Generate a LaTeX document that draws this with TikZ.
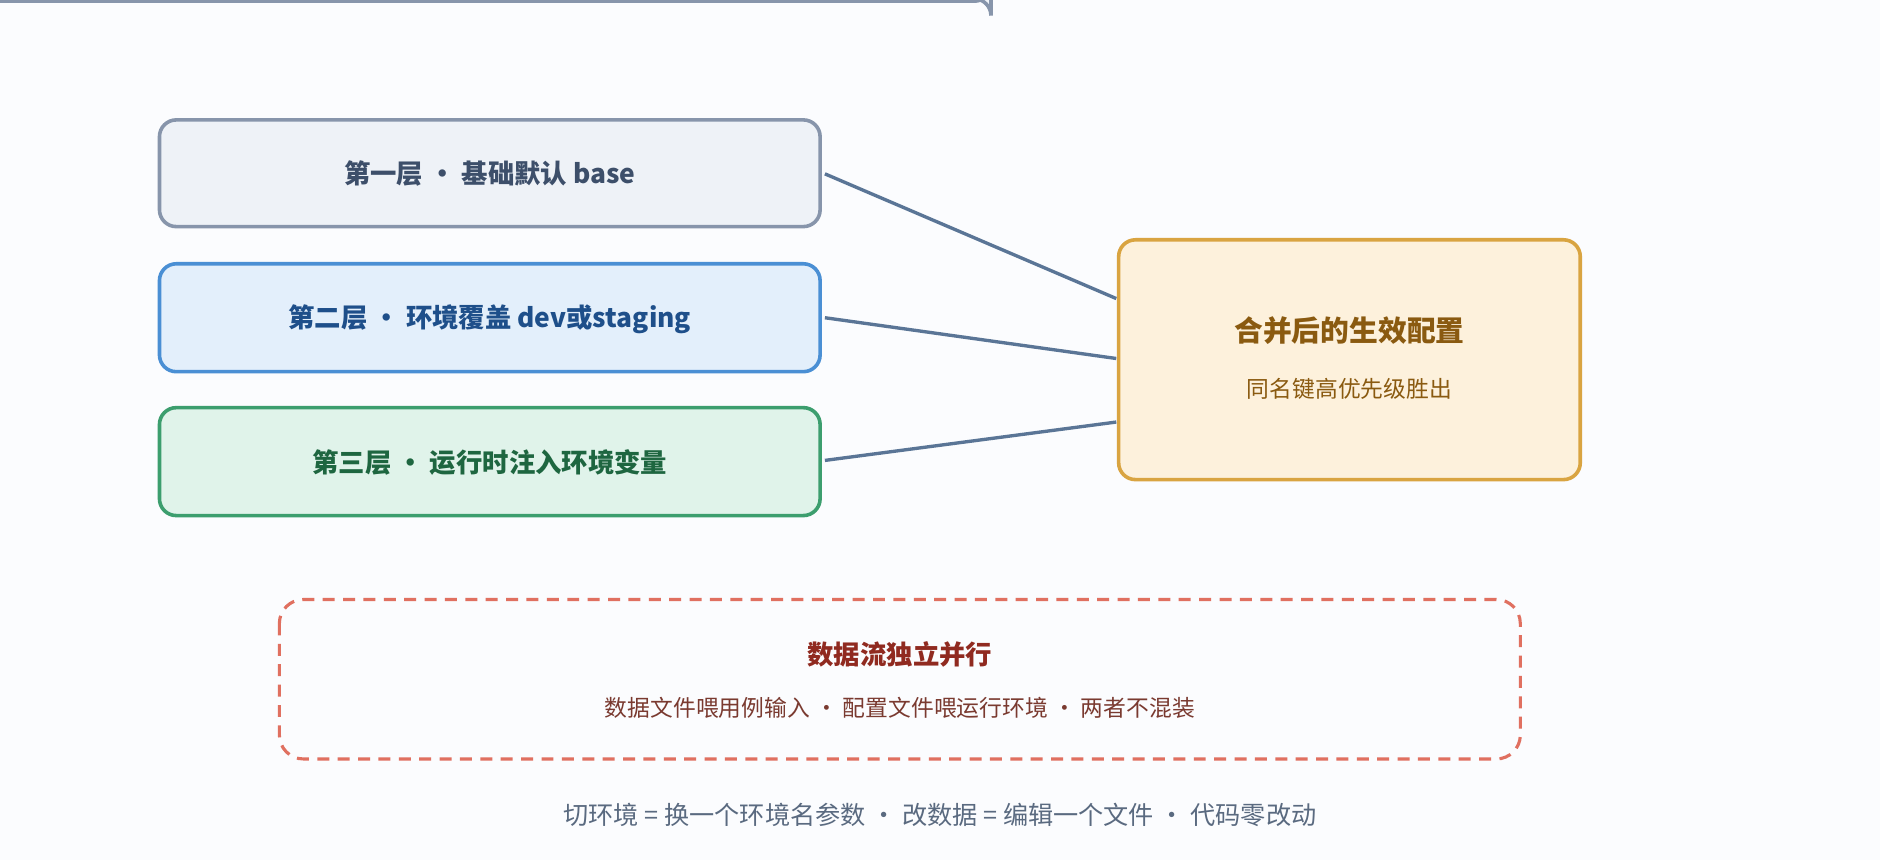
\documentclass[tikz,border=0pt]{standalone}
\usepackage{fontspec}
\setmainfont{Noto Sans CJK SC}
\begin{document}
\begin{tikzpicture}[x=0.5pt,y=-0.5pt,
  box/.style={draw,line width=1.5pt,rounded corners=7pt,inner sep=0pt},
  ttl/.style={font=\bfseries\fontsize{11}{13}\selectfont},
  conn/.style={draw=lnc,line width=1.4pt}]
\definecolor{bg}{HTML}{FBFCFE}
\definecolor{lnc}{HTML}{5A7596}
\definecolor{af}{HTML}{EEF2F7}\definecolor{ad}{HTML}{8795AB}\definecolor{at}{HTML}{3D4F6A}
\definecolor{bf}{HTML}{E3EFFB}\definecolor{bd}{HTML}{4A8FD4}\definecolor{bt}{HTML}{1E4F8A}
\definecolor{cf}{HTML}{E0F3EA}\definecolor{cd}{HTML}{3C9E6E}\definecolor{ct}{HTML}{1E6640}
\definecolor{rf}{HTML}{FDF1DC}\definecolor{rd}{HTML}{D9A441}\definecolor{rt}{HTML}{8A5A10}
\definecolor{dd}{HTML}{E07060}\definecolor{dt}{HTML}{902A20}\definecolor{ds}{HTML}{7A3A30}
\definecolor{ft}{HTML}{5A6A80}
\fill[bg] (0,0) rectangle (1568,717);
\useasboundingbox (0,0) rectangle (1568,717);
\node[box,fill=af,draw=ad,minimum width=551\pgflinewidth,text width=0pt] at (0,0) {};
\path[box,fill=af,draw=ad] (133,100) rectangle (684,189);
\node[ttl,text=at] (b1) at (408.5,145) {第一层 • 基础默认 base};
\path[box,fill=bf,draw=bd] (133,220) rectangle (684,310);
\node[ttl,text=bt] (b2) at (408.5,266) {第二层 • 环境覆盖 dev或staging};
\path[box,fill=cf,draw=cd] (133,340) rectangle (684,430);
\node[ttl,text=ct] (b3) at (408.5,386) {第三层 • 运行时注入环境变量};
\path[box,fill=rf,draw=rd] (933,200) rectangle (1318,400);
\node[ttl,text=rt,font=\bfseries\fontsize{12}{14}\selectfont] (r) at (1125.5,276) {合并后的生效配置};
\node[text=rt,font=\fontsize{9.5}{12}\selectfont] (rs) at (1125.5,324) {同名键高优先级胜出};
\coordinate (e1) at (688,145); \coordinate (e2) at (688,265); \coordinate (e3) at (688,384);
\coordinate (i1) at (931,249); \coordinate (i2) at (931,299); \coordinate (i3) at (931,352);
\draw[conn] (e1) -- (i1);
\draw[conn] (e2) -- (i2);
\draw[conn] (e3) -- (i3);
\draw[dd,line width=1.3pt,dash pattern=on 5pt off 3.5pt,rounded corners=10pt] (233,500) rectangle (1268,633);
\node[ttl,text=dt] (d) at (750.5,546) {数据流独立并行};
\node[text=ds,font=\fontsize{9.5}{12}\selectfont] (ds) at (750.5,590) {数据文件喂用例输入 · 配置文件喂运行环境 · 两者不混装};
\node[text=ft,font=\fontsize{10.5}{13}\selectfont] (f) at (784,680) {切环境 = 换一个环境名参数 · 改数据 = 编辑一个文件 · 代码零改动};
\end{tikzpicture}
\end{document}
